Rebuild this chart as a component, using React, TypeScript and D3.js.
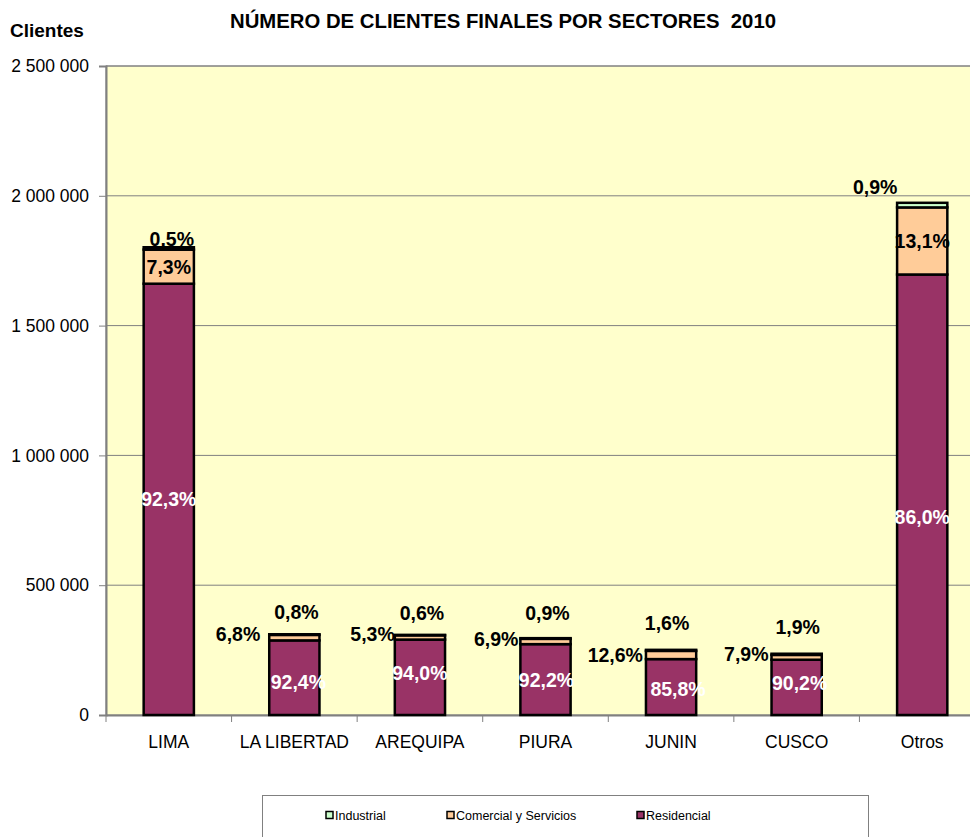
import { useEffect, useRef } from 'react'
import * as d3 from 'd3'

const categories = ['LIMA', 'LA LIBERTAD', 'AREQUIPA', 'PIURA', 'JUNIN', 'CUSCO', 'Otros']
const totals = [1800000, 311000, 309000, 296000, 251000, 236000, 1973000]
const pctResidencial = [92.3, 92.4, 94.0, 92.2, 85.8, 90.2, 86.0]
const pctComercial = [7.3, 6.8, 5.3, 6.9, 12.6, 7.9, 13.1]
const pctIndustrial = [0.5, 0.8, 0.6, 0.9, 1.6, 1.9, 0.9]
const yTicks = [0, 500000, 1000000, 1500000, 2000000, 2500000]
const seriesNames = ['Industrial', 'Comercial y Servicios', 'Residencial']

// hand-placed label nudges, like the dragged labels in the original workbook
const indLabelShift: [number, number][] = [[3, -8], [2, -22], [2, -22], [2, -25], [-4, -27], [1, -27], [-47, -16]]
const comLabelShift: [number, number][] = [[0, 0], [-7, -1], [2, -1], [0, 0], [-1, 4], [-1, -1], [0, 0]]
const resLabelShift: [number, number][] = [[0, 0], [4, 4], [0, -4], [1, 0], [7, 2], [3, -4], [0, 22]]

const COLORS = { Residencial: '#993366', Comercial: '#FFCC99', Industrial: '#CCFFCC' }
const FONT = 'Arial, "Liberation Sans", sans-serif'
const fmtPct = (v: number) => v.toFixed(1).replace('.', ',') + '%'
const fmtNum = (v: number) => d3.format(',')(v).replace(/,/g, ' ')

export default function App() {
  const ref = useRef<SVGSVGElement>(null)

  useEffect(() => {
    const svg = d3.select(ref.current)
    svg.selectAll('*').remove()
    const W = 970, H = 837
    const m = { left: 106, top: 66, right: 985, bottom: 715 }

    const x = d3.scaleBand().domain(categories).range([m.left, m.right]).paddingInner(0.6).paddingOuter(0.3)
    const xb = d3.scaleBand().domain(categories).range([m.left, m.right])
    const y = d3.scaleLinear().domain([0, 2500000]).range([m.bottom, m.top])

    // plot background
    svg.append('rect').attr('x', m.left).attr('y', m.top).attr('width', m.right - m.left).attr('height', m.bottom - m.top)
      .attr('fill', '#FFFFCC').attr('stroke', '#808080').attr('stroke-width', 1)

    // grid
    svg.append('g').selectAll('line').data(yTicks.slice(1)).join('line')
      .attr('x1', m.left).attr('x2', m.right).attr('y1', d => y(d)).attr('y2', d => y(d))
      .attr('stroke', '#808080').attr('stroke-width', 1)

    // y axis
    svg.append('g').attr('transform', `translate(${m.left},0)`)
      .call(d3.axisLeft(y).tickValues(yTicks).tickSize(7).tickPadding(10).tickFormat(d => fmtNum(+d)))
      .call(g => {
        g.select('.domain').attr('stroke', '#808080').attr('stroke-width', 2)
        g.selectAll('.tick line').attr('stroke', '#808080')
        g.selectAll('.tick text').attr('font-family', FONT).attr('font-size', 17.5).attr('fill', '#000')
      })

    // x axis
    svg.append('g').attr('transform', `translate(0,${m.bottom})`)
      .call(d3.axisBottom(xb).tickSize(0).tickPadding(21))
      .call(g => {
        g.select('.domain').attr('stroke', '#808080').attr('stroke-width', 2)
        g.selectAll('.tick text').attr('font-family', FONT).attr('font-size', 17.5).attr('fill', '#000')
      })
    svg.append('g').selectAll('line').data(categories).join('line')
      .attr('x1', d => xb(d)!).attr('x2', d => xb(d)!).attr('y1', m.bottom).attr('y2', m.bottom + 7)
      .attr('stroke', '#808080')

    const rows = categories.map((c, i) => {
      const res = totals[i] * pctResidencial[i] / 100
      const com = totals[i] * pctComercial[i] / 100
      const ind = totals[i] * pctIndustrial[i] / 100
      return { c, i, res, com, ind }
    })

    const g = svg.append('g')
    const bw = x.bandwidth()
    const label = (tx: number, ty: number, txt: string, anchor: string, fill: string) =>
      g.append('text').attr('x', tx).attr('y', ty).attr('dy', '0.36em')
        .attr('text-anchor', anchor).attr('font-family', FONT).attr('font-weight', 'bold').attr('font-size', 19.5)
        .attr('fill', fill).text(txt)

    for (const r of rows) {
      const x0 = x(r.c)!
      const segs = [
        { v0: 0, v1: r.res, col: COLORS.Residencial },
        { v0: r.res, v1: r.res + r.com, col: COLORS.Comercial },
        { v0: r.res + r.com, v1: r.res + r.com + r.ind, col: COLORS.Industrial },
      ]
      for (const s of segs) {
        g.append('rect').attr('x', x0).attr('width', bw)
          .attr('y', y(s.v1)).attr('height', y(s.v0) - y(s.v1))
          .attr('fill', s.col).attr('stroke', '#000').attr('stroke-width', 2.5)
      }
    }
    for (const r of rows) {
      const x0 = x(r.c)!
      const cx = x0 + bw / 2
      const [rdx, rdy] = resLabelShift[r.i]
      label(cx + rdx, (y(0) + y(r.res)) / 2 + rdy, fmtPct(pctResidencial[r.i]), 'middle', '#fff')
      const comH = y(r.res) - y(r.res + r.com)
      const [cdx, cdy] = comLabelShift[r.i]
      if (comH > 24) {
        label(cx + cdx, (y(r.res) + y(r.res + r.com)) / 2 + cdy, fmtPct(pctComercial[r.i]), 'middle', '#000')
      } else {
        label(x0 - 2 + cdx, y(r.res + r.com) + cdy, fmtPct(pctComercial[r.i]), 'end', '#000')
      }
      const [dx, dy] = indLabelShift[r.i]
      label(cx + dx, y(r.res + r.com + r.ind) + dy, fmtPct(pctIndustrial[r.i]), 'middle', '#000')
    }

    // titles
    svg.append('text').attr('x', 503).attr('y', 28).attr('text-anchor', 'middle')
      .attr('font-family', FONT).attr('font-weight', 'bold').attr('font-size', 19.5).attr('fill', '#000')
      .attr('textLength', 546).attr('lengthAdjust', 'spacingAndGlyphs')
      .style('white-space', 'pre').text('NÚMERO DE CLIENTES FINALES POR SECTORES  2010')
    svg.append('text').attr('x', 10).attr('y', 37)
      .attr('font-family', FONT).attr('font-weight', 'bold').attr('font-size', 19).attr('fill', '#000').text('Clientes')

    // legend
    const lg = svg.append('g')
    lg.append('rect').attr('x', 262.5).attr('y', 795.5).attr('width', 606).attr('height', 60)
      .attr('fill', '#fff').attr('stroke', '#808080')
    const legX = [326, 447, 637]
    const legCol = [COLORS.Industrial, COLORS.Comercial, COLORS.Residencial]
    seriesNames.forEach((n, i) => {
      lg.append('rect').attr('x', legX[i]).attr('y', 811.5).attr('width', 7).attr('height', 7)
        .attr('fill', legCol[i]).attr('stroke', '#000').attr('stroke-width', 1.5)
      lg.append('text').attr('x', legX[i] + 9).attr('y', 815).attr('dy', '0.36em')
        .attr('font-family', FONT).attr('font-size', 12.5).attr('fill', '#000').text(n)
    })

    svg.attr('width', W).attr('height', H)
  }, [])

  return (
    <div style={{ position: 'absolute', left: 0, top: 0, width: 970, height: 837, overflow: 'hidden', background: '#fff' }}>
      <svg ref={ref} style={{ display: 'block' }} />
    </div>
  )
}
